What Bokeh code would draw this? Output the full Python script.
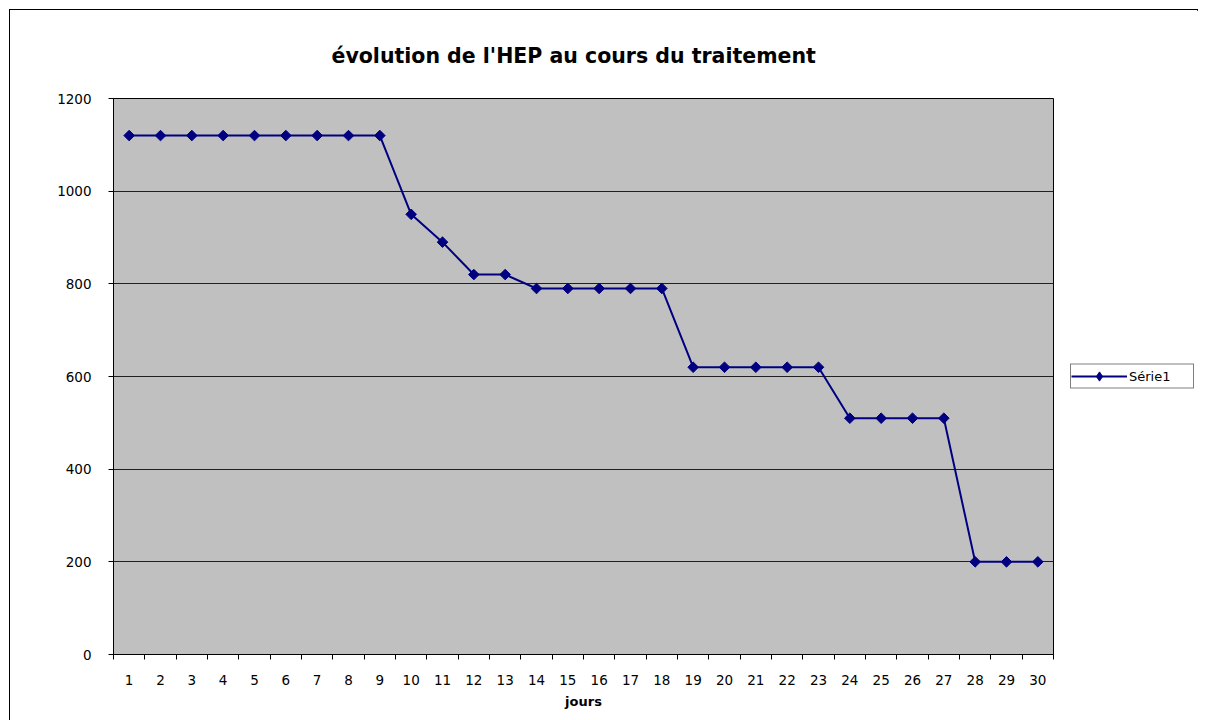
import math
from bokeh.plotting import figure
from bokeh.models import FixedTicker, Range1d, Legend, LegendItem
from bokeh.embed import file_html
from bokeh.resources import INLINE

# ---- data ----
days = list(range(1, 31))
day_labels = [str(d) for d in days]
hep = [1120, 1120, 1120, 1120, 1120, 1120, 1120, 1120, 1120,
       950, 890, 820, 820,
       790, 790, 790, 790, 790,
       620, 620, 620, 620, 620,
       510, 510, 510, 510,
       200, 200, 200]
y_ticks = [0, 200, 400, 600, 800, 1000, 1200]
series_name = "Série1"
title_text = "évolution de l'HEP au cours du traitement"
x_label = "jours"

FONT = "DejaVu Sans"
NAVY = "#000080"

p = figure(
    frame_width=940, frame_height=556,
    min_border_left=103, min_border_right=146,
    min_border_top=87, min_border_bottom=66,
    x_range=Range1d(0.5, 30.5), y_range=Range1d(0, 1200),
    output_backend="svg", toolbar_location=None,
)
p.styles = {"border": "1px solid black", "width": "1189px",
            "margin-left": "9px", "margin-top": "9px"}
p.background_fill_color = "#C0C0C0"
p.border_fill_color = "white"
p.outline_line_color = "#000000"
p.outline_line_width = 1

# title
p.title.text = title_text
p.title.text_font = FONT
p.title.text_font_style = "bold"
p.title.text_font_size = "20.5px"
p.title.align = "left"
p.title.offset = 218
p.title.standoff = 62
p.title.text_color = "black"

# x axis
xa = p.xaxis[0]
xa.ticker = FixedTicker(ticks=days, minor_ticks=[d - 0.5 for d in days] + [30.5])
xa.major_label_overrides = {d: lab for d, lab in zip(days, day_labels)}
xa.major_tick_line_color = None
xa.minor_tick_in = 0
xa.minor_tick_out = 5
xa.minor_tick_line_color = "black"
xa.axis_line_color = "black"
xa.major_label_text_font = FONT
xa.major_label_text_font_size = "13.5px"
xa.major_label_text_color = "black"
xa.major_label_standoff = 14
xa.axis_label = x_label
xa.axis_label_text_font = FONT
xa.axis_label_text_font_style = "bold"
xa.axis_label_text_font_size = "13px"
xa.axis_label_text_color = "black"
xa.axis_label_standoff = 6

# y axis
ya = p.yaxis[0]
ya.ticker = FixedTicker(ticks=y_ticks, minor_ticks=[])
ya.major_tick_in = 0
ya.major_tick_out = 5
ya.major_tick_line_color = "black"
ya.axis_line_color = "black"
ya.major_label_text_font = FONT
ya.major_label_text_font_size = "13.5px"
ya.major_label_text_color = "black"
ya.major_label_standoff = 17

p.xgrid.grid_line_color = None
p.ygrid.grid_line_color = "#202020"
p.ygrid.grid_line_width = 1

line_r = p.line(days, hep, line_color=NAVY, line_width=2)
# diamond-shaped key for the legend (hidden under the main markers)
key_r = p.scatter(days, hep, marker="diamond", fill_color=NAVY, line_color=NAVY, size=8)
mark_r = p.scatter(days, hep, marker="square", angle=math.pi / 4, size=7.5,
                   fill_color=NAVY, line_color=NAVY)

legend = Legend(items=[LegendItem(label=series_name, renderers=[line_r, key_r])],
                location="center_left")
legend.label_text_font = FONT
legend.label_text_font_size = "13px"
legend.label_text_color = "black"
legend.glyph_width = 56
legend.glyph_height = 23
legend.label_height = 23
legend.label_width = 64
legend.label_standoff = 2
legend.padding = 0
legend.margin = 17
legend.border_line_color = "black"
legend.border_line_width = 1
legend.background_fill_color = "white"
p.add_layout(legend, "right")

open("out.html", "w").write(file_html(p, INLINE))
